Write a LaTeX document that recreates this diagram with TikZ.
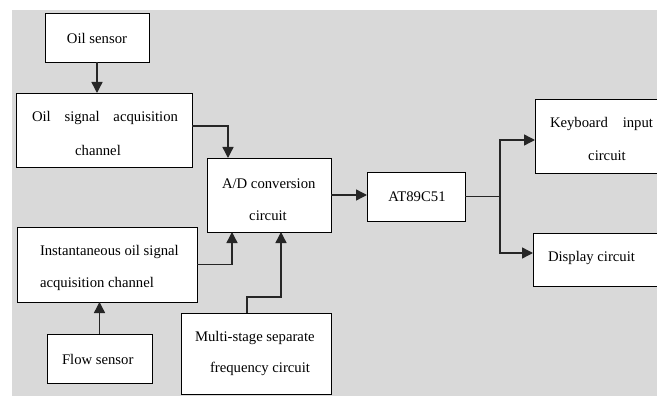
\documentclass[tikz,border=0pt]{standalone}
\usepackage{fontspec}
\setmainfont{Liberation Serif}
\usetikzlibrary{arrows.meta}
\definecolor{bg}{HTML}{D9D9D9}
\tikzset{
  box/.style={draw=black, fill=white, line width=0.9pt, inner sep=0pt, outer sep=0pt},
  lbl/.style={inner sep=0pt, outer sep=0pt, font=\fontsize{14.7}{16}\selectfont},
  arr/.style={draw=black!85, line width=1.4pt, -{Triangle[length=11pt,width=11pt]}},
}
\begin{document}
\begin{tikzpicture}[x=1pt,y=-1pt]
\clip (0,0) rectangle (657,396);
\fill[white] (0,0) rectangle (657,396);
\fill[bg] (12,10) rectangle (657,396);
% boxes
\node[box, minimum width=104pt, minimum height=49pt] (oil) at (97,37.5) {};
\node[box, minimum width=176pt, minimum height=74pt] (osa) at (104,130) {};
\node[box, minimum width=124pt, minimum height=74pt] (ad) at (269,195) {};
\node[box, minimum width=98pt, minimum height=49pt] (at) at (416,196.5) {};
\node[box, minimum width=145pt, minimum height=74pt] (kb) at (607.5,136) {};
\node[box, minimum width=147pt, minimum height=53pt] (disp) at (606.5,259.5) {};
\node[box, minimum width=180pt, minimum height=75pt] (inst) at (107,264.5) {};
\node[box, minimum width=105pt, minimum height=49pt] (flow) at (99.5,358.5) {};
\node[box, minimum width=150pt, minimum height=81pt] (ms) at (256,353.5) {};
% texts
\node[lbl] (toil) at (97,38) {Oil sensor};
\node[lbl, anchor=west] (tosa1) at (32,118) {\makebox[146pt][s]{Oil signal acquisition}};
\node[lbl] (tosa2) at (98,150) {channel};
\node[lbl, anchor=west] (tad1) at (222,184) {A/D conversion};
\node[lbl] (tad2) at (268,216) {circuit};
\node[lbl] (tat) at (417,197) {AT89C51};
\node[lbl, anchor=west] (tkb1) at (550,124) {\makebox[103pt][s]{Keyboard input}};
\node[lbl] (tkb2) at (607,156) {circuit};
\node[lbl, anchor=west] (tdisp) at (548,258) {Display circuit};
\node[lbl, anchor=west] (tinst1) at (40,252) {Instantaneous oil signal};
\node[lbl, anchor=west] (tinst2) at (40,284) {acquisition channel};
\node[lbl, anchor=west] (tflow) at (62,359) {Flow sensor};
\node[lbl, anchor=west] (tms1) at (195,338) {Multi-stage separate};
\node[lbl, anchor=west] (tms2) at (210,369) {frequency circuit};
% connectors
\draw[arr] (oil.south) -- (oil.south |- osa.north);
\draw[arr] ([yshift=4pt]osa.east) -| ([xshift=-41pt]ad.north);
\draw[arr] (inst.east) -| ([xshift=-37pt]ad.south);
\draw[arr] (flow.north) -- (flow.north |- inst.south);
\draw[arr] ([xshift=-9pt]ms.north) -- ++(0pt,16pt) -| ([xshift=12pt]ad.south);
\draw[arr] (ad.east) -- (ad.east -| at.west);
\draw[arr] (at.east) -- ++(35pt,0pt) |- ([yshift=-4pt]kb.west);
\draw[arr] (at.east) -- ++(35pt,0pt) |- ([yshift=6.5pt]disp.west);
\end{tikzpicture}
\end{document}
